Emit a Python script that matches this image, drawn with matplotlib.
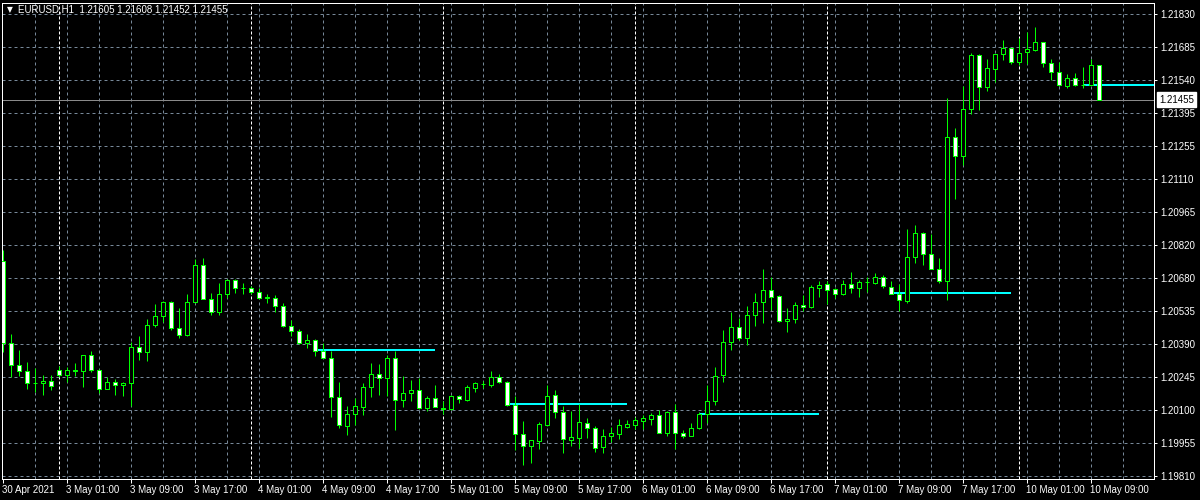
import numpy as np
import pandas as pd
import matplotlib
matplotlib.use("Agg")
import matplotlib.pyplot as plt
from matplotlib.patches import Rectangle
from matplotlib.collections import PatchCollection
from matplotlib.transforms import blended_transform_factory, offset_copy

plt.rcParams['font.family'] = ['Liberation Sans', 'DejaVu Sans']

# ---------------- data ----------------
symbol = "EURUSD,H1"
first_bar = "2021-04-30 17:00"
last_bar = "2021-05-10 10:00"

opens = [1.20752, 1.20393, 1.20296, 1.20267, 1.20217, 1.20217, 1.20227, 1.20272, 1.20252, 1.20272,
         1.20269, 1.20337, 1.20275, 1.20191, 1.20223, 1.20208, 1.20215, 1.20376, 1.20354, 1.20472,
         1.20511, 1.20572, 1.20457, 1.20426, 1.20572, 1.20734, 1.20585, 1.20529, 1.20607, 1.20668,
         1.20632, 1.20630, 1.20614, 1.20590, 1.20590, 1.20555, 1.20466, 1.20444, 1.20392, 1.20406,
         1.20357, 1.20326, 1.20156, 1.20030, 1.20079, 1.20112, 1.20201, 1.20254, 1.20240, 1.20328,
         1.20143, 1.20175, 1.20188, 1.20108, 1.20153, 1.20106, 1.20104, 1.20158, 1.20143, 1.20196,
         1.20214, 1.20206, 1.20241, 1.20222, 1.20120, 1.19994, 1.19940, 1.19964, 1.20034, 1.20162,
         1.20092, 1.19968, 1.19977, 1.20040, 1.20022, 1.19938, 1.19983, 1.19993, 1.20026, 1.20033,
         1.20050, 1.20060, 1.20075, 1.20000, 1.20092, 1.20000, 1.19986, 1.20020, 1.20081, 1.20138,
         1.20252, 1.20396, 1.20463, 1.20413, 1.20512, 1.20570, 1.20625, 1.20598, 1.20488, 1.20496,
         1.20559, 1.20549, 1.20632, 1.20650, 1.20628, 1.20606, 1.20651, 1.20632, 1.20658, 1.20653,
         1.20681, 1.20638, 1.20607, 1.20575, 1.20768, 1.20873, 1.20780, 1.20716, 1.20662, 1.21292,
         1.21207, 1.21414, 1.21651, 1.21509, 1.21591, 1.21654, 1.21680, 1.21622, 1.21663, 1.21674,
         1.21707, 1.21615, 1.21578, 1.21517, 1.21549, 1.21519, 1.21520, 1.21605]

highs = [1.20800, 1.20429, 1.20360, 1.20307, 1.20284, 1.20251, 1.20251, 1.20290, 1.20285, 1.20303,
         1.20340, 1.20355, 1.20278, 1.20242, 1.20232, 1.20219, 1.20398, 1.20424, 1.20495, 1.20560,
         1.20577, 1.20577, 1.20543, 1.20604, 1.20757, 1.20761, 1.20608, 1.20656, 1.20670, 1.20670,
         1.20652, 1.20640, 1.20633, 1.20604, 1.20603, 1.20565, 1.20492, 1.20454, 1.20429, 1.20408,
         1.20393, 1.20357, 1.20219, 1.20115, 1.20153, 1.20216, 1.20303, 1.20299, 1.20339, 1.20357,
         1.20246, 1.20230, 1.20237, 1.20159, 1.20208, 1.20138, 1.20165, 1.20163, 1.20207, 1.20221,
         1.20227, 1.20268, 1.20255, 1.20224, 1.20158, 1.20049, 1.19968, 1.20044, 1.20207, 1.20185,
         1.20115, 1.20094, 1.20123, 1.20062, 1.20028, 1.20015, 1.20024, 1.20059, 1.20056, 1.20070,
         1.20076, 1.20085, 1.20099, 1.20094, 1.20123, 1.20012, 1.20041, 1.20088, 1.20207, 1.20285,
         1.20447, 1.20525, 1.20502, 1.20552, 1.20608, 1.20717, 1.20681, 1.20600, 1.20543, 1.20572,
         1.20600, 1.20646, 1.20661, 1.20661, 1.20630, 1.20665, 1.20700, 1.20669, 1.20678, 1.20696,
         1.20691, 1.20664, 1.20651, 1.20892, 1.20909, 1.20876, 1.20870, 1.20765, 1.21464, 1.21333,
         1.21516, 1.21659, 1.21655, 1.21634, 1.21656, 1.21717, 1.21682, 1.21724, 1.21750, 1.21773,
         1.21709, 1.21632, 1.21619, 1.21567, 1.21571, 1.21597, 1.21632, 1.21608]

lows = [1.20351, 1.20241, 1.20248, 1.20191, 1.20178, 1.20165, 1.20186, 1.20242, 1.20221, 1.20248,
        1.20200, 1.20265, 1.20172, 1.20189, 1.20165, 1.20160, 1.20118, 1.20317, 1.20313, 1.20463,
        1.20483, 1.20448, 1.20413, 1.20422, 1.20568, 1.20582, 1.20514, 1.20514, 1.20590, 1.20608,
        1.20604, 1.20604, 1.20582, 1.20565, 1.20527, 1.20461, 1.20422, 1.20386, 1.20368, 1.20335,
        1.20324, 1.20069, 1.20019, 1.19989, 1.20032, 1.20076, 1.20156, 1.20163, 1.20160, 1.20011,
        1.20112, 1.20138, 1.20105, 1.20095, 1.20110, 1.20080, 1.20098, 1.20131, 1.20137, 1.20178,
        1.20193, 1.20201, 1.20217, 1.20117, 1.19925, 1.19858, 1.19867, 1.19928, 1.20030, 1.20063,
        1.19912, 1.19942, 1.19932, 1.19977, 1.19916, 1.19912, 1.19960, 1.19971, 1.20018, 1.20015,
        1.20015, 1.20032, 1.19997, 1.19986, 1.19929, 1.19977, 1.19983, 1.20015, 1.20040, 1.20121,
        1.20221, 1.20361, 1.20405, 1.20383, 1.20466, 1.20479, 1.20536, 1.20482, 1.20440, 1.20477,
        1.20531, 1.20543, 1.20592, 1.20562, 1.20590, 1.20603, 1.20611, 1.20592, 1.20614, 1.20651,
        1.20632, 1.20605, 1.20530, 1.20566, 1.20741, 1.20731, 1.20713, 1.20652, 1.20579, 1.21020,
        1.21171, 1.21391, 1.21411, 1.21494, 1.21532, 1.21629, 1.21613, 1.21608, 1.21612, 1.21670,
        1.21600, 1.21542, 1.21517, 1.21506, 1.21517, 1.21507, 1.21518, 1.21452]

closes = [1.20393, 1.20296, 1.20267, 1.20217, 1.20218, 1.20227, 1.20204, 1.20251, 1.20272, 1.20271,
          1.20337, 1.20275, 1.20191, 1.20223, 1.20208, 1.20217, 1.20376, 1.20354, 1.20472, 1.20511,
          1.20572, 1.20457, 1.20426, 1.20572, 1.20734, 1.20585, 1.20529, 1.20607, 1.20668, 1.20633,
          1.20630, 1.20614, 1.20587, 1.20591, 1.20553, 1.20466, 1.20444, 1.20392, 1.20406, 1.20357,
          1.20326, 1.20156, 1.20034, 1.20079, 1.20114, 1.20201, 1.20254, 1.20239, 1.20328, 1.20143,
          1.20175, 1.20188, 1.20108, 1.20153, 1.20112, 1.20105, 1.20158, 1.20145, 1.20197, 1.20216,
          1.20213, 1.20241, 1.20221, 1.20121, 1.19994, 1.19942, 1.19966, 1.20036, 1.20158, 1.20092,
          1.19970, 1.19979, 1.20044, 1.20022, 1.19933, 1.19986, 1.19996, 1.20031, 1.20036, 1.20053,
          1.20062, 1.20075, 1.19999, 1.20092, 1.19999, 1.19986, 1.20022, 1.20080, 1.20140, 1.20249,
          1.20398, 1.20463, 1.20413, 1.20515, 1.20572, 1.20625, 1.20592, 1.20488, 1.20498, 1.20559,
          1.20549, 1.20638, 1.20646, 1.20625, 1.20607, 1.20651, 1.20632, 1.20659, 1.20657, 1.20681,
          1.20640, 1.20607, 1.20579, 1.20768, 1.20873, 1.20780, 1.20716, 1.20662, 1.21292, 1.21207,
          1.21414, 1.21651, 1.21513, 1.21593, 1.21654, 1.21680, 1.21618, 1.21659, 1.21676, 1.21707,
          1.21615, 1.21578, 1.21519, 1.21549, 1.21519, 1.21520, 1.21606, 1.21455]

# cyan level segments: start bar index and price, each spanning 15 bars
level_start_bars = [39, 63, 87, 111, 135]
level_prices = [1.20361, 1.20124, 1.20082, 1.20608, 1.21520]
level_length = 15

y_tick_labels = ["1.21830", "1.21685", "1.21540", "1.21395", "1.21255", "1.21110", "1.20965",
                 "1.20820", "1.20680", "1.20535", "1.20390", "1.20245", "1.20100", "1.19955",
                 "1.19810"]
y_tick_top, y_tick_bottom = 1.21830, 1.19810

# ---------------- layout/style ----------------
W, H = 1200, 500
left_px, right_px, top_px, bottom_px = 2, 1154, 3, 478.5
bar_px, x0_px = 8.0, 3.3
tick_top_px, tick_bottom_px = 14, 476

GREEN = '#00ff00'
GRID = '#778899'
CYAN = '#00ffff'
PX = 0.72  # one pixel in points at dpi 100
FS = 7

times = pd.date_range(first_bar, last_bar, freq="h")
times = times[times.dayofweek < 5]
n = len(times)
xs = np.arange(n)

fig = plt.figure(figsize=(W / 100, H / 100), dpi=100, facecolor='black')
ax = fig.add_axes([left_px / W, 1 - bottom_px / H, (right_px - left_px) / W, (bottom_px - top_px) / H])
ax.set_facecolor('black')

ax.set_xlim((left_px - x0_px) / bar_px, (right_px - x0_px) / bar_px)
ppu = (tick_bottom_px - tick_top_px) / (y_tick_top - y_tick_bottom)
ax.set_ylim(y_tick_bottom - (bottom_px - tick_bottom_px) / ppu,
            y_tick_top + (tick_top_px - top_px) / ppu)

y_ticks = np.linspace(y_tick_top, y_tick_bottom, len(y_tick_labels))

# grid
for yv in y_ticks:
    ax.axhline(yv, color=GRID, lw=PX, ls=(0, (3, 3)), zorder=0.5)
for xv in range(4, n + 8, 4):
    ax.axvline(xv, color=GRID, lw=PX, ls=(0, (3, 3)), zorder=0.5)

# period separators (day starts)
dates = times.normalize()
sep_idx = [i for i in range(1, n) if dates[i] != dates[i - 1]]
for i in sep_idx:
    ax.axvline(i, color='white', lw=PX, ls=(0, (3, 2)), zorder=0.6)

# current price line
ax.axhline(closes[-1], color='#8a8a8a', lw=PX, zorder=0.8)

# cyan levels
for s, p in zip(level_start_bars, level_prices):
    ax.hlines(p, s, s + level_length, color=CYAN, lw=2 * PX, zorder=2)

# candles
o = np.array(opens); h = np.array(highs); l = np.array(lows); c = np.array(closes)
ax.vlines(xs, l, h, color=GREEN, lw=PX, zorder=3)
body_w = 0.5
rects = []
faces = []
for i in range(n):
    lo_b = min(o[i], c[i])
    hgt = abs(c[i] - o[i])
    rects.append(Rectangle((i - body_w / 2, lo_b), body_w, hgt))
    faces.append('white' if c[i] < o[i] else 'black')
pc = PatchCollection(rects, facecolors=faces, edgecolors=GREEN, linewidths=PX, zorder=4)
ax.add_collection(pc)

# spines
for sp in ax.spines.values():
    sp.set_color('white')
    sp.set_linewidth(PX)

# axes ticks
ax.yaxis.tick_right()
ax.set_yticks(y_ticks)
ax.set_yticklabels(y_tick_labels)
ax.tick_params(axis='y', colors='white', labelsize=FS, length=2.2, width=PX, pad=2.2, direction='out')

lab_pos = list(range(0, n, 8))
lab_txt = [times[i].strftime('%-d %b %Y') if k == 0 else times[i].strftime('%-d %b %H:%M')
           for k, i in enumerate(lab_pos)]
ax.set_xticks(lab_pos)
ax.set_xticklabels(lab_txt, ha='left')
ax.tick_params(axis='x', which='major', colors='white', labelsize=FS, length=2.9, width=PX, pad=1.9)
for lbl in ax.get_xticklabels():
    lbl.set_transform(offset_copy(lbl.get_transform(), fig=fig, x=-1, y=0, units='dots'))

# header
fig.text(7 / W, 1 - 10 / H, "\u25BC", color='white', fontsize=5.5, va='center', ha='left',
         family='DejaVu Sans')
fig.text(18 / W, 1 - 10 / H,
         f"{symbol}  {opens[-1]:.5f} {highs[-1]:.5f} {lows[-1]:.5f} {closes[-1]:.5f}",
         color='white', fontsize=FS, va='center', ha='left')

# current price label
tr = blended_transform_factory(ax.transAxes, ax.transData)
ax.text(1 + 5 / (right_px - left_px), closes[-1], f"{closes[-1]:.5f}", transform=tr,
        color='black', fontsize=FS, va='center', ha='left', clip_on=False, zorder=10,
        bbox=dict(boxstyle='square,pad=0.25', fc='white', ec='white'))

fig.savefig('out.png', dpi=100, facecolor='black')
